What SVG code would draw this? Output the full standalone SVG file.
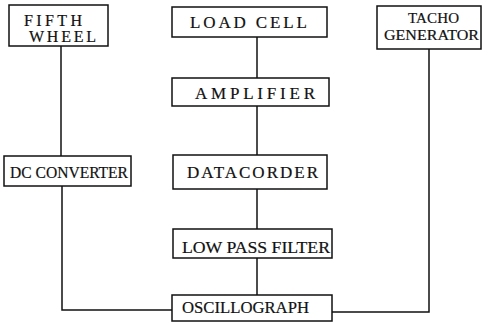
<svg xmlns="http://www.w3.org/2000/svg" width="483" height="330" viewBox="0 0 483 330">
  <style>
    .box { fill: #fff; stroke: #111; stroke-width: 1.5; }
    .lbl { font-family: "Liberation Serif", "Times New Roman", serif; font-size: 17px; fill: #111; stroke: #111; stroke-width: 0.2; }
    .two { font-size: 15px; }
    .wheel { font-size: 16px; }
    .wire { fill: none; stroke: #111; stroke-width: 1.5; }
  </style>
  <rect width="483" height="330" fill="#fff"/>

  <!-- signal wiring -->
  <g id="connectors">
    <path class="wire" d="M61,46 V156"/>
    <path class="wire" d="M62,186 V310 H172"/>
    <path class="wire" d="M257,37 V78"/>
    <path class="wire" d="M257,106 V155"/>
    <path class="wire" d="M257,189 V229"/>
    <path class="wire" d="M257,258 V295"/>
    <path class="wire" d="M429,49 V312 H332"/>
  </g>

  <g id="fifth-wheel">
    <rect class="box" x="9" y="5" width="99" height="41"/>
    <text class="lbl wheel" x="24" y="26" textLength="58" lengthAdjust="spacing">FIFTH</text>
    <text class="lbl wheel" x="29" y="42" textLength="67" lengthAdjust="spacing">WHEEL</text>
  </g>

  <g id="load-cell">
    <rect class="box" x="172" y="7" width="155" height="30"/>
    <text class="lbl" x="190" y="28" textLength="117" lengthAdjust="spacing">LOAD  CELL</text>
  </g>

  <g id="tacho-generator">
    <rect class="box" x="377" y="6" width="104" height="43"/>
    <text class="lbl two" x="408" y="23" textLength="51" lengthAdjust="spacing">TACHO</text>
    <text class="lbl two" x="384" y="40" textLength="95" lengthAdjust="spacingAndGlyphs">GENERATOR</text>
  </g>

  <g id="amplifier">
    <rect class="box" x="172" y="78" width="157" height="28"/>
    <text class="lbl" x="195" y="99" textLength="120" lengthAdjust="spacing">AMPLIFIER</text>
  </g>

  <g id="dc-converter">
    <rect class="box" x="4" y="156" width="127" height="30"/>
    <text class="lbl" x="10" y="178" textLength="118" lengthAdjust="spacingAndGlyphs">DC CONVERTER</text>
  </g>

  <g id="datacorder">
    <rect class="box" x="173" y="155" width="154" height="34"/>
    <text class="lbl" x="187" y="178" textLength="131" lengthAdjust="spacing">DATACORDER</text>
  </g>

  <g id="low-pass-filter">
    <rect class="box" x="173" y="229" width="159" height="29"/>
    <text class="lbl" x="182" y="253" textLength="148" lengthAdjust="spacingAndGlyphs">LOW PASS FILTER</text>
  </g>

  <g id="oscillograph">
    <rect class="box" x="172" y="295" width="160" height="26"/>
    <text class="lbl" x="182" y="313" textLength="127" lengthAdjust="spacingAndGlyphs">OSCILLOGRAPH</text>
  </g>
</svg>
